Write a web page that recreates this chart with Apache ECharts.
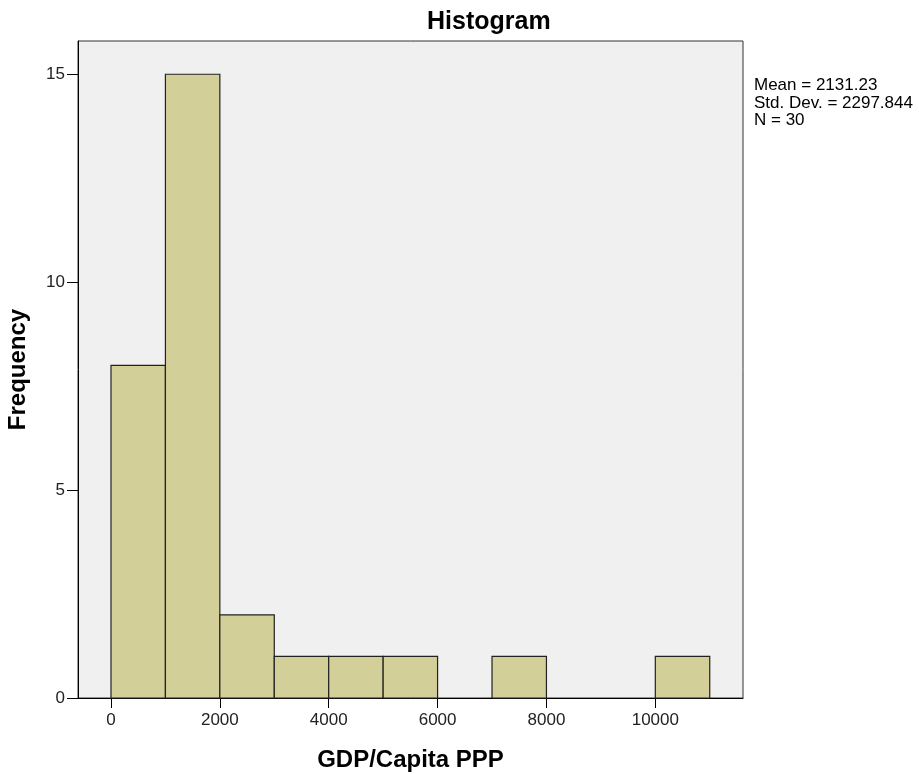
<!DOCTYPE html>
<html>
<head>
<meta charset="utf-8">
<script src="https://cdn.jsdelivr.net/npm/echarts@6/dist/echarts.min.js"></script>
<style>
html,body{margin:0;padding:0;background:#fff;}
#main{width:919px;height:774px;}
</style>
</head>
<body>
<div id="main"></div>
<script>
// Histogram bins (GDP/Capita PPP), width 1000
const binStarts = [0, 1000, 2000, 3000, 4000, 5000, 6000, 7000, 8000, 9000, 10000];
const binWidth = 1000;
const frequencies = [8, 15, 2, 1, 1, 1, 0, 1, 0, 0, 1];
const xTickValues = [0, 2000, 4000, 6000, 8000, 10000];
const yTickValues = [0, 5, 10, 15];
const statsLines = ['Mean = 2131.23', 'Std. Dev. = 2297.844', 'N = 30'];

const data = binStarts.map((s, i) => [s, s + binWidth, frequencies[i]]).filter(d => d[2] > 0);

const chart = echarts.init(document.getElementById('main'));
chart.setOption({
  animation: false,
  backgroundColor: '#ffffff',
  title: {
    text: 'Histogram',
    left: 422,
    top: 5,
    textStyle: { fontFamily: 'Liberation Sans', fontWeight: 'bold', fontSize: 25, color: '#000' }
  },
  grid: {
    left: 78, right: 176, top: 41, bottom: 76,
    outerBoundsMode: 'none',
    containLabel: false,
    show: true, backgroundColor: '#f0f0f0', borderColor: '#333', borderWidth: 1
  },
  xAxis: {
    type: 'value',
    min: -606, max: 11611,
    name: 'GDP/Capita PPP',
    nameLocation: 'middle',
    nameGap: 50,
    nameTextStyle: { fontFamily: 'Liberation Sans', fontWeight: 'bold', fontSize: 24, color: '#000' },
    axisLine: { show: true, onZero: false, lineStyle: { color: '#000', width: 1 } },
    axisTick: { show: true, inside: false, length: 10, customValues: xTickValues, lineStyle: { color: '#000' } },
    axisLabel: { customValues: xTickValues, margin: 14, formatter: v => String(v), fontFamily: 'Liberation Sans', fontSize: 17, color: '#222' },
    splitLine: { show: false }
  },
  yAxis: {
    type: 'value',
    min: 0, max: 15.8,
    name: 'Frequency',
    nameLocation: 'middle',
    nameGap: 48,
    nameTextStyle: { fontFamily: 'Liberation Sans', fontWeight: 'bold', fontSize: 24, color: '#000' },
    axisLine: { show: true, onZero: false, lineStyle: { color: '#000', width: 1 } },
    axisTick: { show: true, inside: false, length: 11, customValues: yTickValues, lineStyle: { color: '#000' } },
    axisLabel: { customValues: yTickValues, margin: 13, formatter: v => String(v), fontFamily: 'Liberation Sans', fontSize: 17, color: '#222' },
    splitLine: { show: false }
  },
  series: [{
    type: 'custom',
    data: data,
    renderItem: function (params, api) {
      const p0 = api.coord([api.value(0), 0]);
      const p1 = api.coord([api.value(1), api.value(2)]);
      return {
        type: 'rect',
        shape: { x: p0[0], y: p1[1], width: p1[0] - p0[0], height: p0[1] - p1[1] },
        style: { fill: '#d3cf98', stroke: '#222', lineWidth: 1.2 }
      };
    }
  }],
  graphic: [{
    type: 'text',
    left: 754,
    top: 77,
    style: {
      text: statsLines.join('\n'),
      fontFamily: 'Liberation Sans',
      fontSize: 17,
      lineHeight: 17.5,
      fill: '#000'
    }
  }]
});
</script>
</body>
</html>
